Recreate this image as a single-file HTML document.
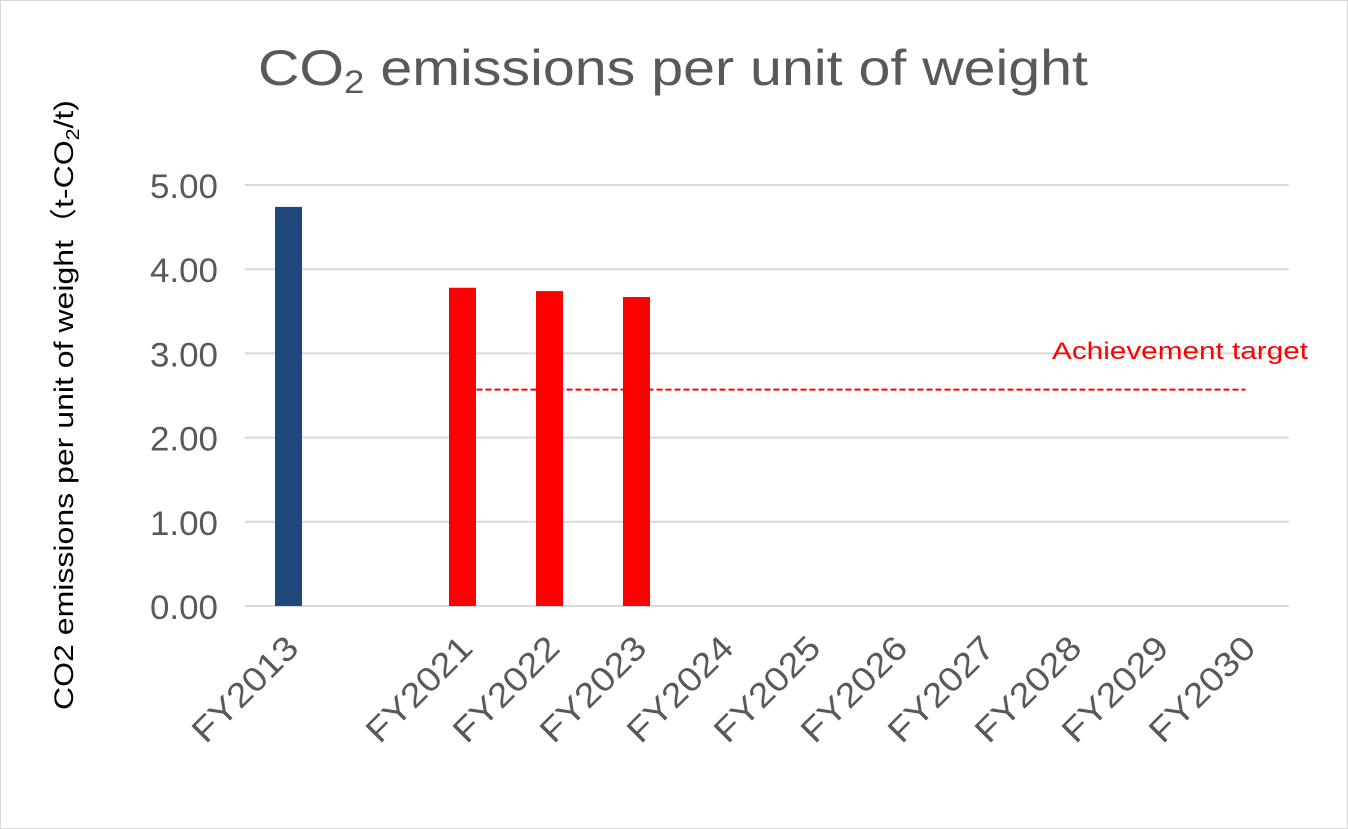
<!DOCTYPE html>
<html><head><meta charset="utf-8"><style>
body{margin:0;background:#fff;}
svg{display:block;font-family:"Liberation Sans","Noto Sans CJK JP",sans-serif;}
</style></head><body>
<svg id="c" width="1348" height="829">
<rect x="0.5" y="0.5" width="1347" height="828" fill="#fff" stroke="#d9d9d9"/>
<text x="258" y="85" textLength="830" lengthAdjust="spacingAndGlyphs" font-size="50" fill="#595959">CO<tspan font-size="32" dy="8">2</tspan><tspan dy="-8"> emissions per unit of weight</tspan></text>
<text transform="translate(73,405) rotate(-90)" text-anchor="middle" font-size="27" fill="#000" textLength="610" lengthAdjust="spacingAndGlyphs">CO2 emissions per unit of weight（t-CO<tspan font-size="18" dy="6">2</tspan><tspan dy="-6">/t)</tspan></text>
<g id="grid"></g><g id="marks"></g><g id="labels"></g>
</svg>
<script>
const categories=["FY2013","","FY2021","FY2022","FY2023","FY2024","FY2025","FY2026","FY2027","FY2028","FY2029","FY2030"];
const values=[4.74,null,3.78,3.74,3.67,null,null,null,null,null,null,null];
const colors=["#1f497d",null,"#ff0000","#ff0000","#ff0000"];
const yTicks=[0,1,2,3,4,5];
const yTickLabels=["0.00","1.00","2.00","3.00","4.00","5.00"];
const targetValue=2.57;
const targetStart="FY2021", targetEnd="FY2030";
const NS="http://www.w3.org/2000/svg";
const x0=245,x1=1289,y0=606,yTop=185;
const band=(x1-x0)/categories.length;
const X=i=>x0+band*(i+0.5);
const Y=v=>y0-(v/5)*(y0-yTop);
function mk(t,a,p){const e=document.createElementNS(NS,t);for(const k in a)e.setAttribute(k,a[k]);p.appendChild(e);return e;}
const g=document.getElementById('grid'),m=document.getElementById('marks'),l=document.getElementById('labels');
yTicks.forEach((v,i)=>{
 const ln=mk('line',{x1:x0,x2:x1,y1:Y(v),y2:Y(v),stroke:'#d9d9d9','stroke-width':2},g);
 
 
 const t=mk('text',{x:150,y:Y(v)+13,'font-size':34,fill:'#595959',textLength:68,lengthAdjust:'spacingAndGlyphs'},l);
 t.textContent=yTickLabels[i];
 
 
});
values.forEach((v,i)=>{
 if(v==null)return;
 const r=mk('rect',{x:X(i)-13.5,y:Y(v),width:27,height:Y(0)-Y(v),fill:colors[i]},m);
 
 
});
const ti=categories.indexOf(targetStart),te=categories.indexOf(targetEnd);
const tl=mk('line',{x1:X(ti)+14,x2:X(te),y1:Y(targetValue),y2:Y(targetValue),stroke:'#ff0000','stroke-width':2,'stroke-dasharray':'6,3'},m);


const tt=mk('text',{x:1052,y:359,'font-size':24,fill:'#ff0000',textLength:256,lengthAdjust:'spacingAndGlyphs'},l);
tt.textContent="Achievement target";


categories.forEach((c,i)=>{
 if(!c)return;
 const t=mk('text',{transform:`translate(${X(i)+12},${650}) rotate(-45)`,'text-anchor':'end','font-size':34,fill:'#595959',textLength:134,lengthAdjust:'spacingAndGlyphs'},l);
 t.textContent=c;
 
 
});
</script>
</body></html>
